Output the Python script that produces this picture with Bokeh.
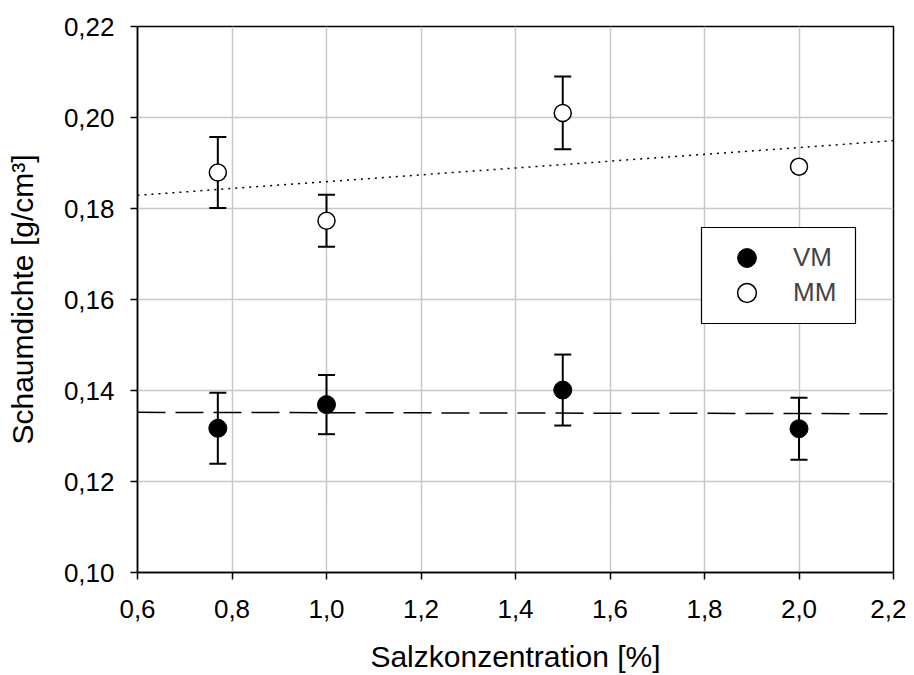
from bokeh.plotting import figure
from bokeh.models import (ColumnDataSource, Whisker, TeeHead, FixedTicker,
                          CustomJSTickFormatter, Legend, LegendItem, Range1d,
                          BoxAnnotation)
from bokeh.embed import file_html
from bokeh.resources import INLINE

# ---- data ----
salt = [0.77, 1.0, 1.5, 2.0]
vm_density = [0.1317, 0.1369, 0.1401, 0.1316]
vm_error = [0.0078, 0.0065, 0.0078, 0.0068]
mm_density = [0.1879, 0.1773, 0.2010, 0.1892]
mm_error = [0.0078, 0.0057, 0.0080, 0.0]

trend_x = [0.6, 2.2]
vm_trend = [0.1352, 0.1349]
mm_trend = [0.1829, 0.1949]

x_ticks = [0.6, 0.8, 1.0, 1.2, 1.4, 1.6, 1.8, 2.0, 2.2]
x_tick_labels = ["0,6", "0,8", "1,0", "1,2", "1,4", "1,6", "1,8", "2,0", "2,2"]
y_ticks = [0.10, 0.12, 0.14, 0.16, 0.18, 0.20, 0.22]
y_tick_labels = ["0,10", "0,12", "0,14", "0,16", "0,18", "0,20", "0,22"]

series_names = ["VM", "MM"]
x_title = "Salzkonzentration [%]"
y_title = "Schaumdichte [g/cm³]"

FONT = "Liberation Sans"
FS = "26px"
FS_TITLE = "30px"

p = figure(frame_width=756, frame_height=546, output_backend="svg",
           toolbar_location=None,
           x_range=Range1d(0.6, 2.2), y_range=Range1d(0.10, 0.22),
           min_border_left=137, min_border_right=13,
           min_border_top=26, min_border_bottom=100)
p.background_fill_color = "white"
p.border_fill_color = "white"
p.outline_line_color = "black"
p.outline_line_width = 1.5

# grid
for g in (p.xgrid, p.ygrid):
    g.grid_line_color = "#c8c8c8"
    g.grid_line_width = 1.5

# axes
fmt_code = """
const i = tvals.findIndex(t => Math.abs(t - tick) < 1e-9);
return i >= 0 ? tlabels[i] : '';
"""
p.xaxis.ticker = FixedTicker(ticks=x_ticks)
p.yaxis.ticker = FixedTicker(ticks=y_ticks)
p.xaxis.formatter = CustomJSTickFormatter(args=dict(tvals=x_ticks, tlabels=x_tick_labels), code=fmt_code)
p.yaxis.formatter = CustomJSTickFormatter(args=dict(tvals=y_ticks, tlabels=y_tick_labels), code=fmt_code)
p.xaxis.axis_label = x_title
p.yaxis.axis_label = y_title
for ax in (p.xaxis, p.yaxis):
    ax.axis_line_color = "black"
    ax.axis_line_width = 1.5
    ax.major_tick_line_color = "black"
    ax.major_tick_line_width = 1.5
    ax.major_tick_in = 0
    ax.major_tick_out = 7
    ax.minor_tick_line_color = None
    ax.major_label_text_font = FONT
    ax.major_label_text_font_size = FS
    ax.major_label_text_color = "black"
    ax.axis_label_text_font = FONT
    ax.axis_label_text_font_size = FS_TITLE
    ax.axis_label_text_font_style = "normal"
    ax.axis_label_text_color = "black"
p.yaxis.major_label_standoff = 16
p.xaxis.major_label_standoff = 20
p.yaxis.axis_label_standoff = 22
p.xaxis.axis_label_standoff = 19

# trend lines
p.line(trend_x, vm_trend, line_color="black", line_width=1.5, line_dash="28 10")
p.line(trend_x, mm_trend, line_color="black", line_width=1.5, line_dash="2 5")

# error bars
vm_src = ColumnDataSource(dict(x=salt, y=vm_density,
                               lo=[v - e for v, e in zip(vm_density, vm_error)],
                               hi=[v + e for v, e in zip(vm_density, vm_error)]))
mm_src = ColumnDataSource(dict(x=salt, y=mm_density,
                               lo=[v - e for v, e in zip(mm_density, mm_error)],
                               hi=[v + e for v, e in zip(mm_density, mm_error)]))
for src in (vm_src, mm_src):
    w = Whisker(source=src, base="x", lower="lo", upper="hi",
                line_color="black", line_width=2,
                upper_head=TeeHead(size=17, line_width=2, line_color="black"),
                lower_head=TeeHead(size=17, line_width=2, line_color="black"))
    p.add_layout(w)

# markers
r_vm = p.scatter("x", "y", source=vm_src, size=18, fill_color="black",
                 line_color="black", line_width=1)
r_mm = p.scatter("x", "y", source=mm_src, size=17, fill_color="white",
                 line_color="black", line_width=1.5)

# legend box (screen units, relative to the plot frame)
box = BoxAnnotation(left=564, right=718, bottom=249, top=345,
                    left_units="screen", right_units="screen",
                    bottom_units="screen", top_units="screen",
                    fill_color="white", fill_alpha=1.0,
                    line_color="black", line_width=1.2, line_alpha=1.0)
p.add_layout(box)

common = dict(glyph_width=47, glyph_height=47, padding=0, margin=0,
              label_standoff=23, label_text_font=FONT, label_text_font_size=FS,
              border_line_color=None, background_fill_alpha=0.0)
leg_vm = Legend(items=[LegendItem(label=series_names[0], renderers=[r_vm])],
                location=(586, 291), **common)
leg_mm = Legend(items=[LegendItem(label=series_names[1], renderers=[r_mm])],
                location=(586, 256), **common)
p.add_layout(leg_vm)
p.add_layout(leg_mm)

open("out.html", "w").write(file_html(p, INLINE))
